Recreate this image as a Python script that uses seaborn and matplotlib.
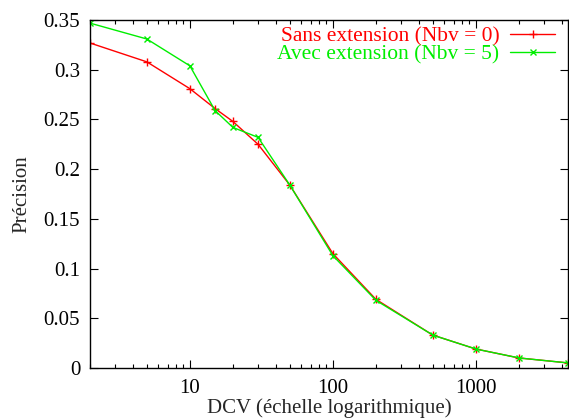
import matplotlib
matplotlib.use('Agg')
import matplotlib.pyplot as plt
import seaborn as sns
import pandas as pd
from matplotlib.ticker import LogLocator, NullFormatter, FixedLocator

sns.set_style('ticks')
plt.rcParams['font.family'] = ['Liberation Serif', 'DejaVu Serif']

dcv = [2, 5, 10, 15, 20, 30, 50, 100, 200, 500, 1000, 2000, 4400]
sans_ext = [0.327, 0.308, 0.281, 0.261, 0.248, 0.225, 0.184, 0.115, 0.069, 0.033, 0.019, 0.010, 0.005]
avec_ext = [0.347, 0.331, 0.304, 0.259, 0.242, 0.232, 0.184, 0.113, 0.068, 0.033, 0.019, 0.010, 0.005]
y_ticks = [0, 0.05, 0.1, 0.15, 0.2, 0.25, 0.3, 0.35]
y_labels = ['0', '0.05', '0.1', '0.15', '0.2', '0.25', '0.3', '0.35']

df = pd.DataFrame({'dcv': dcv, 'sans': sans_ext, 'avec': avec_ext})

fig = plt.figure(figsize=(5.69, 4.19), dpi=100)
ax = fig.add_axes([0.158, 0.122, 0.84, 0.830])

sns.lineplot(data=df, x='dcv', y='sans', ax=ax, color='#ff0000', marker='+', markersize=6,
             markeredgewidth=1, markeredgecolor='#ff0000', linewidth=1,
             label='Sans extension (Nbv = 0)')
sns.lineplot(data=df, x='dcv', y='avec', ax=ax, color='#00ee00', marker='x', markersize=5,
             markeredgewidth=1, markeredgecolor='#00ee00', linewidth=1,
             label='Avec extension (Nbv = 5)')

ax.set_xscale('log')
ax.set_xlim(2, 4400)
ax.set_ylim(0, 0.35)
ax.set_xticks([10, 100, 1000])
ax.set_xticklabels(['10', '100', '1000'])
ax.xaxis.set_minor_locator(LogLocator(base=10, subs=range(2, 10), numticks=20))
ax.xaxis.set_minor_formatter(NullFormatter())
ax.yaxis.set_major_locator(FixedLocator(y_ticks))
ax.set_yticklabels(y_labels)

ax.tick_params(which='both', direction='in', top=True, right=True, labelsize=15, colors='black')
ax.tick_params(which='major', length=6, width=0.8)
ax.tick_params(axis='y', which='major', pad=7)
ax.tick_params(axis='x', which='major', pad=8)
ax.tick_params(which='minor', length=3, width=0.8)
for s in ax.spines.values():
    s.set_linewidth(1)
    s.set_color('black')

ax.set_xlabel('DCV (échelle logarithmique)', fontsize=15, labelpad=0)
ax.set_ylabel('Précision', fontsize=15, labelpad=9)

ax.legend(loc='upper right', bbox_to_anchor=(0.9874, 1.0), frameon=False, markerfirst=False,
          labelcolor='linecolor', fontsize=15.5, handlelength=2.1, borderaxespad=0.1,
          labelspacing=-0.12, handletextpad=0.5, borderpad=0.2)

fig.savefig('out.png', dpi=100)
